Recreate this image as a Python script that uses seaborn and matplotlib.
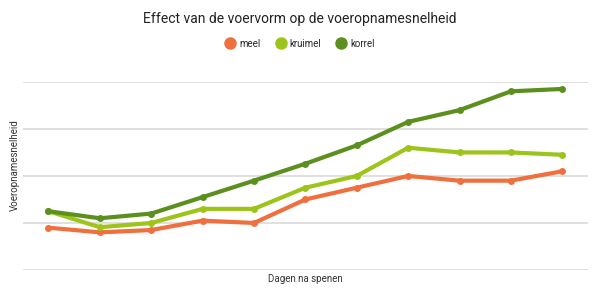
import matplotlib
matplotlib.use("Agg")
import matplotlib.pyplot as plt
import pandas as pd
import seaborn as sns

dagen = list(range(11))
meel = [0.90, 0.80, 0.85, 1.05, 1.00, 1.50, 1.75, 2.00, 1.90, 1.90, 2.10]
kruimel = [1.25, 0.91, 1.00, 1.30, 1.30, 1.75, 2.00, 2.60, 2.50, 2.50, 2.45]
korrel = [1.25, 1.10, 1.20, 1.55, 1.90, 2.26, 2.65, 3.15, 3.40, 3.80, 3.85]
series = ["meel", "kruimel", "korrel"]
colors = ["#ef6f3f", "#9dc41a", "#5b8f1e"]

df = pd.DataFrame({
    "dag": dagen * 3,
    "waarde": meel + kruimel + korrel,
    "vorm": [s for s in series for _ in dagen],
})

sns.set_style("white")
plt.rcParams["font.family"] = ["Roboto", "DejaVu Sans"]

fig = plt.figure(figsize=(6, 3), dpi=100)
ax = fig.add_axes([0.038, 0.1, 0.942, 0.627])
sns.lineplot(data=df, x="dag", y="waarde", hue="vorm", palette=colors,
             marker="o", markersize=5, markeredgewidth=0, linewidth=3,
             ax=ax, legend=False)

ax.set_xlim(-0.5, 10.5)
ax.set_ylim(0, 4)
ax.set_yticks([0, 1, 2, 3, 4])
ax.set_xticks([])
ax.set_yticklabels([])
ax.tick_params(left=False, bottom=False)
ax.grid(axis="y", color="#dddddd", linewidth=1.3)
ax.set_axisbelow(True)
for sp in ax.spines.values():
    sp.set_visible(False)

ax.set_xlabel("Dagen na spenen", fontsize=7, color="#333333", labelpad=3)
ax.set_ylabel("Voeropnamesnelheid", fontsize=7, color="#333333")
ax.yaxis.set_label_coords(-0.006, 0.56)

fig.text(0.5, 0.935, "Effect van de voervorm op de voeropnamesnelheid",
         ha="center", va="center", fontsize=10, color="#222222")

handles = [plt.Line2D([], [], marker="o", linestyle="", color=c, markersize=8)
           for c in colors]
fig.legend(handles, series, loc="center", bbox_to_anchor=(0.5, 0.855), ncol=3,
           frameon=False, fontsize=7, handletextpad=0.4, columnspacing=1.6,
           handlelength=1)

fig.savefig("out.png", dpi=100)
